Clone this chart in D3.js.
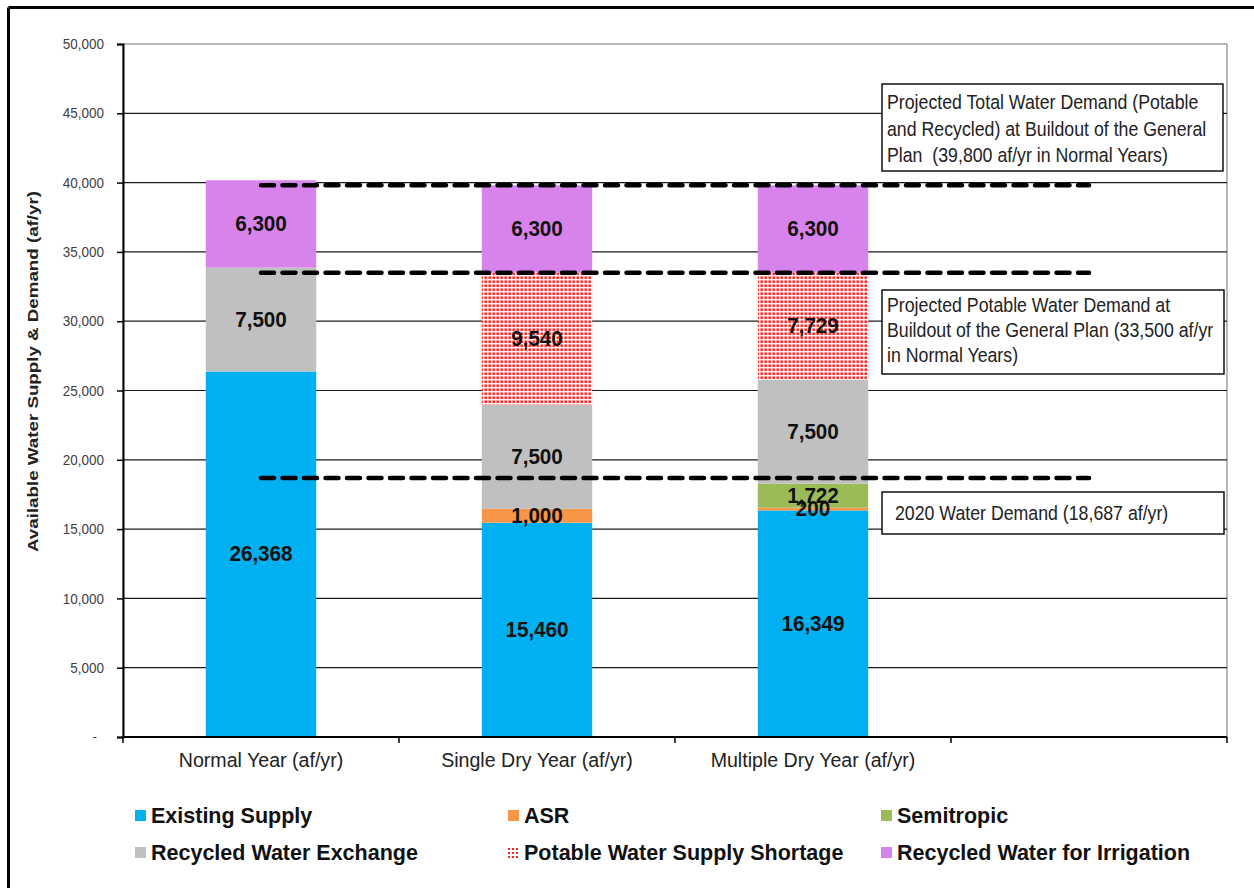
<!DOCTYPE html>
<html>
<head>
<meta charset="utf-8">
<script src="https://cdn.jsdelivr.net/npm/d3@7"></script>
<style>
  html, body { margin: 0; padding: 0; background: #fff; }
  svg { display: block; font-family: "Liberation Sans", Arial, sans-serif; }
</style>
</head>
<body>
<svg id="chart" width="1254" height="888"></svg>
<script>
// ---------------- DATA ----------------
const categories = ["Normal Year (af/yr)", "Single Dry Year (af/yr)", "Multiple Dry Year (af/yr)", ""];
const seriesNames = ["Existing Supply", "ASR", "Semitropic", "Recycled Water Exchange", "Potable Water Supply Shortage", "Recycled Water for Irrigation"];
const existingSupply = [26368, 15460, 16349];
const asr = [0, 1000, 200];
const semitropic = [0, 0, 1722];
const recycledExchange = [7500, 7500, 7500];
const supplyShortage = [0, 9540, 7729];
const recycledIrrigation = [6300, 6300, 6300];
const yTicks = [0, 5000, 10000, 15000, 20000, 25000, 30000, 35000, 40000, 45000, 50000];
const demandLevels = [39800, 33500, 18687];
const annotationLines = [
  ["Projected Total Water Demand (Potable", "and Recycled) at Buildout of the General", "Plan  (39,800 af/yr in Normal Years)"],
  ["Projected Potable Water Demand at", "Buildout of the General Plan (33,500 af/yr", "in Normal Years)"],
  ["2020 Water Demand (18,687 af/yr)"]
];
const yAxisTitle = "Available Water Supply & Demand (af/yr)";

// ---------------- STYLE / LAYOUT ----------------
const colors = ["#00B0F0", "#F79646", "#9BBB59", "#C0C0C0", "url(#shortagePattern)", "#D883EC"];
const legendColors = ["#00B0F0", "#F79646", "#9BBB59", "#C0C0C0", "url(#shortagePatternSmall)", "#D883EC"];
const plot = { left: 123, right: 1227, top: 44, bottom: 737 };

const svg = d3.select("#chart");
const defs = svg.append("defs");
const pat = defs.append("pattern").attr("id", "shortagePattern")
  .attr("patternUnits", "userSpaceOnUse").attr("width", 4).attr("height", 4);
pat.append("rect").attr("width", 4).attr("height", 4).attr("fill", "#ffeeee");
pat.append("rect").attr("x", 0.5).attr("y", 0.5).attr("width", 2.4).attr("height", 2.4).attr("fill", "#ff1a1a");
const pat2 = defs.append("pattern").attr("id", "shortagePatternSmall")
  .attr("patternUnits", "userSpaceOnUse").attr("width", 4).attr("height", 4);
pat2.append("rect").attr("width", 4).attr("height", 4).attr("fill", "#fff");
pat2.append("rect").attr("width", 2).attr("height", 2).attr("fill", "#ff2020");

// outer frame (top & left visible)
svg.append("line").attr("x1", 8.5).attr("y1", 7.5).attr("x2", 1254).attr("y2", 7.5).attr("stroke", "#000").attr("stroke-width", 3);
svg.append("line").attr("x1", 8.5).attr("y1", 7.5).attr("x2", 8.5).attr("y2", 888).attr("stroke", "#000").attr("stroke-width", 3);

// scales
const x = d3.scaleBand().domain(categories).range([plot.left, plot.right]).paddingInner(0).paddingOuter(0);
const y = d3.scaleLinear().domain([0, 50000]).range([plot.bottom, plot.top]);
const barW = x.bandwidth() * 0.4;

// plot area border
svg.append("rect").attr("x", plot.left).attr("y", plot.top)
  .attr("width", plot.right - plot.left).attr("height", plot.bottom - plot.top)
  .attr("fill", "none").attr("stroke", "#8a8a8a").attr("stroke-width", 1.2);

// gridlines
svg.append("g").selectAll("line").data(yTicks.filter(d => d > 0 && d < 50000)).join("line")
  .attr("x1", plot.left).attr("x2", plot.right)
  .attr("y1", d => y(d)).attr("y2", d => y(d))
  .attr("stroke", "#1a1a1a").attr("stroke-width", 1.2);

// stacked data
const rows = categories.slice(0, 3).map((c, i) => ({
  cat: c, s0: existingSupply[i], s1: asr[i], s2: semitropic[i], s3: recycledExchange[i], s4: supplyShortage[i], s5: recycledIrrigation[i]
}));
const keys = ["s0", "s1", "s2", "s3", "s4", "s5"];
const stacked = d3.stack().keys(keys)(rows);

const layers = svg.append("g").selectAll("g").data(stacked).join("g")
  .attr("fill", (d, i) => colors[i]);
layers.selectAll("rect").data(d => d).join("rect")
  .attr("x", d => x(d.data.cat) + (x.bandwidth() - barW) / 2)
  .attr("width", barW)
  .attr("y", d => y(d[1]))
  .attr("height", d => Math.max(0, y(d[0]) - y(d[1])));

// data labels
const fmt = d3.format(",");
const labG = svg.append("g");
stacked.forEach(layer => {
  layer.forEach(d => {
    const v = d[1] - d[0];
    if (v <= 0) return;
    labG.append("text")
      .attr("transform", `translate(${x(d.data.cat) + x.bandwidth() / 2},${(y(d[0]) + y(d[1])) / 2}) scale(0.94,1)`)
      .attr("text-anchor", "middle").attr("dominant-baseline", "central")
      .attr("font-size", 22).attr("font-weight", "bold").attr("fill", "#111")
      .text(fmt(v));
  });
});

// dashed demand lines (from category 1 center to category 4 center)
const xStart = x(categories[0]) + x.bandwidth() / 2;
const xEnd = x(categories[3]) + x.bandwidth() / 2;
svg.append("g").selectAll("line").data(demandLevels).join("line")
  .attr("x1", xStart).attr("x2", xEnd)
  .attr("y1", d => y(d)).attr("y2", d => y(d))
  .attr("stroke", "#000").attr("stroke-width", 4.5)
  .attr("stroke-dasharray", "13 8.5").attr("stroke-linecap", "round");

// axes
const yAxis = d3.axisLeft(y).tickValues(yTicks).tickSize(6).tickPadding(13)
  .tickFormat(d => d === 0 ? "-" : fmt(d));
const yg = svg.append("g").attr("transform", `translate(${plot.left},0)`).call(yAxis);
yg.select(".domain").attr("stroke", "#000").attr("stroke-width", 2);
yg.selectAll(".tick line").attr("stroke", "#000").attr("stroke-width", 1.5);
yg.selectAll(".tick text").attr("font-size", 14.5).attr("fill", "#404040")
  .attr("font-family", "'Liberation Sans', Arial, sans-serif")
  .attr("transform", "scale(0.93,1)")
  .attr("x", -19 / 0.93);
yg.selectAll(".tick").filter(d => d === 0).select("text").attr("x", -26 / 0.93);

// x axis
svg.append("line").attr("x1", plot.left).attr("x2", plot.right).attr("y1", plot.bottom).attr("y2", plot.bottom)
  .attr("stroke", "#000").attr("stroke-width", 2);
const boundaries = categories.map(c => x(c)).concat([plot.right]);
svg.append("g").selectAll("line").data(boundaries).join("line")
  .attr("x1", d => d).attr("x2", d => d).attr("y1", plot.bottom).attr("y2", plot.bottom + 6)
  .attr("stroke", "#000").attr("stroke-width", 1.5);
svg.append("g").selectAll("text").data(categories.filter(c => c)).join("text")
  .attr("x", d => x(d) + x.bandwidth() / 2).attr("y", 767)
  .attr("text-anchor", "middle").attr("font-size", 19.6).attr("fill", "#222")
  .text(d => d);

// y axis title
svg.append("text")
  .attr("transform", `translate(38,${(plot.top + plot.bottom) / 2 - 19}) rotate(-90) scale(1.21,1)`)
  .attr("text-anchor", "middle").attr("font-size", 15.5).attr("font-weight", "bold").attr("fill", "#222")
  .text(yAxisTitle);

// annotation boxes
const boxes = [
  { x: 882, y: 84, w: 341, h: 87, tx: 887, ty: 109, lh: 26.5 },
  { x: 882, y: 290, w: 342, h: 84, tx: 887, ty: 312, lh: 25 },
  { x: 882, y: 492, w: 342, h: 42, tx: 895, ty: 520, lh: 25 }
];
boxes.forEach((b, i) => {
  const g = svg.append("g");
  g.append("rect").attr("x", b.x).attr("y", b.y).attr("width", b.w).attr("height", b.h)
    .attr("fill", "#fff").attr("stroke", "#000").attr("stroke-width", 1.4);
  annotationLines[i].forEach((t, j) => {
    g.append("text").attr("transform", `translate(${b.tx},${b.ty + j * b.lh}) scale(0.91,1)`)
      .attr("font-size", 19.5).attr("fill", "#222").style("white-space", "pre").text(t);
  });
});

// legend
const legendCols = [151, 524, 897];
const legendRows = [823, 860];
const lg = svg.append("g");
seriesNames.forEach((name, i) => {
  const cx = legendCols[i % 3], cy = legendRows[Math.floor(i / 3)];
  lg.append("rect").attr("x", cx - 16).attr("y", cy - 13).attr("width", 11).attr("height", 11)
    .attr("fill", legendColors[i]);
  lg.append("text").attr("x", cx).attr("y", cy)
    .attr("font-size", 21.5).attr("font-weight", "bold").attr("fill", "#111").text(name);
});
</script>
</body>
</html>
